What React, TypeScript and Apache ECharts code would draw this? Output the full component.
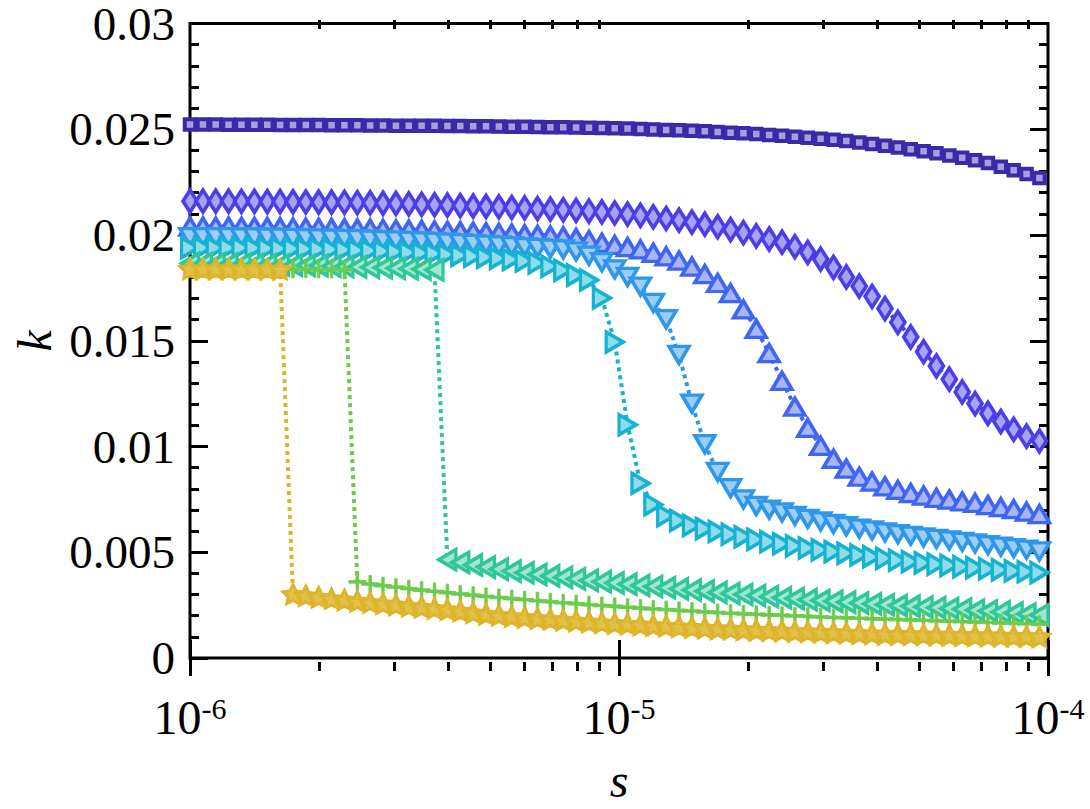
import { useEffect, useRef } from "react";
import * as echarts from "echarts";

// Sampling grid of s, in units of 1e-6 (log10 step of 0.03 from 1e-6)
const S_MICRO = [
  1.0, 1.072, 1.148, 1.23, 1.318, 1.413, 1.514, 1.622, 1.738, 1.862,
  1.995, 2.138, 2.291, 2.455, 2.63, 2.818, 3.02, 3.236, 3.467, 3.715,
  3.981, 4.266, 4.571, 4.898, 5.248, 5.623, 6.026, 6.457, 6.918, 7.413,
  7.943, 8.511, 9.12, 9.772, 10.47, 11.22, 12.02, 12.88, 13.8, 14.79,
  15.85, 16.98, 18.2, 19.5, 20.89, 22.39, 23.99, 25.7, 27.54, 29.51,
  31.62, 33.88, 36.31, 38.9, 41.69, 44.67, 47.86, 51.29, 54.95, 58.88,
  63.1, 67.61, 72.44, 77.62, 83.18, 89.13, 95.5,
];

const K_SQUARE = [
  0.02522, 0.02522, 0.02522, 0.02521, 0.02521, 0.02521, 0.02521, 0.0252, 0.0252, 0.0252,
  0.0252, 0.02519, 0.02519, 0.02519, 0.02518, 0.02518, 0.02517, 0.02517, 0.02516, 0.02516,
  0.02515, 0.02515, 0.02514, 0.02514, 0.02513, 0.02512, 0.02512, 0.02511, 0.0251, 0.02509,
  0.02508, 0.02507, 0.02506, 0.02505, 0.02503, 0.02501, 0.02499, 0.02497, 0.02495, 0.02493,
  0.0249, 0.02487, 0.02484, 0.02481, 0.02477, 0.02473, 0.02469, 0.02465, 0.0246, 0.02455,
  0.0245, 0.02444, 0.02437, 0.0243, 0.02422, 0.02414, 0.02405, 0.02396, 0.02386, 0.02376,
  0.02365, 0.02353, 0.0234, 0.02323, 0.02306, 0.02288, 0.0227,
];

const K_DIAMOND = [
  0.0216, 0.0216, 0.0216, 0.0216, 0.02159, 0.02159, 0.02158, 0.02158, 0.02157, 0.02156,
  0.02155, 0.02155, 0.02154, 0.02153, 0.02152, 0.0215, 0.02149, 0.02147, 0.02145, 0.02143,
  0.02141, 0.02139, 0.02137, 0.02135, 0.02133, 0.0213, 0.02128, 0.02125, 0.02122, 0.02119,
  0.02116, 0.02113, 0.02109, 0.02104, 0.02099, 0.02093, 0.02086, 0.02078, 0.0207, 0.02061,
  0.02051, 0.02039, 0.02025, 0.02011, 0.01996, 0.01981, 0.01966, 0.01945, 0.01918, 0.01886,
  0.01847, 0.01802, 0.01758, 0.0171, 0.01652, 0.01587, 0.01518, 0.01448, 0.01381, 0.01318,
  0.01258, 0.01203, 0.01157, 0.01118, 0.01081, 0.01049, 0.01026,
];

const K_TRI_UP = [
  0.0204, 0.0204, 0.0204, 0.0204, 0.02039, 0.02039, 0.02038, 0.02037, 0.02036, 0.02035,
  0.02034, 0.02033, 0.02032, 0.02031, 0.0203, 0.02029, 0.02027, 0.02026, 0.02024, 0.02022,
  0.0202, 0.02018, 0.02016, 0.02013, 0.0201, 0.02007, 0.02004, 0.02001, 0.01998, 0.01994,
  0.01986, 0.01976, 0.01963, 0.01953, 0.01943, 0.01932, 0.01916, 0.01899, 0.01879, 0.0185,
  0.01815, 0.01773, 0.01725, 0.01648, 0.01556, 0.01441, 0.0131, 0.01188, 0.01088, 0.01003,
  0.00942, 0.00895, 0.00857, 0.00834, 0.00811, 0.00795, 0.0078, 0.00768, 0.00757, 0.00749,
  0.0074, 0.00733, 0.00723, 0.00713, 0.00704, 0.00692, 0.0068,
];

const K_TRI_DOWN = [
  0.0199, 0.0199, 0.0199, 0.0199, 0.01989, 0.01989, 0.01988, 0.01987, 0.01986, 0.01985,
  0.01984, 0.01983, 0.01982, 0.0198, 0.01978, 0.01976, 0.01974, 0.01972, 0.0197, 0.01967,
  0.01964, 0.01961, 0.01958, 0.01955, 0.01951, 0.01947, 0.01943, 0.01939, 0.01936, 0.01932,
  0.01922, 0.01902, 0.01872, 0.01838, 0.01802, 0.01756, 0.01679, 0.01602, 0.01433, 0.01203,
  0.01011, 0.0088, 0.00803, 0.0075, 0.00719, 0.00702, 0.00688, 0.00672, 0.00658, 0.00646,
  0.00634, 0.00623, 0.00612, 0.00603, 0.00594, 0.00586, 0.00578, 0.0057, 0.00563, 0.00556,
  0.00549, 0.00542, 0.00534, 0.00527, 0.0052, 0.00512, 0.00504,
];

const K_TRI_RIGHT = [
  0.0194, 0.0194, 0.0194, 0.01939, 0.01939, 0.01938, 0.01937, 0.01936, 0.01935, 0.01934,
  0.01933, 0.01932, 0.0193, 0.01928, 0.01926, 0.01924, 0.01921, 0.01918, 0.01915, 0.01912,
  0.01908, 0.01904, 0.019, 0.01895, 0.0189, 0.01884, 0.01877, 0.01868, 0.01852, 0.01833,
  0.0181, 0.01787, 0.01702, 0.01494, 0.01103, 0.00826, 0.00725, 0.00673, 0.0065, 0.00627,
  0.00612, 0.00598, 0.00585, 0.00573, 0.00561, 0.0055, 0.0054, 0.0053, 0.0052, 0.00511,
  0.00503, 0.00495, 0.00487, 0.00479, 0.00471, 0.00462, 0.00456, 0.0045, 0.00444, 0.00438,
  0.00432, 0.00427, 0.00422, 0.00417, 0.00412, 0.00408, 0.00404,
];

const K_TRI_LEFT = [
  0.01865, 0.01864, 0.01863, 0.01862, 0.01861, 0.0186, 0.01859, 0.01858, 0.01857, 0.01856,
  0.01855, 0.01853, 0.01851, 0.01849, 0.01847, 0.01845, 0.01843, 0.01841, 0.01838, 0.01835,
  0.00465, 0.00452, 0.0044, 0.0043, 0.0042, 0.00411, 0.00403, 0.00395, 0.00388, 0.00381,
  0.00374, 0.00367, 0.00361, 0.00355, 0.00349, 0.00343, 0.00338, 0.00332, 0.00327, 0.00321,
  0.00316, 0.0031, 0.00305, 0.003, 0.00295, 0.0029, 0.00285, 0.00281, 0.00276, 0.00272,
  0.00268, 0.00264, 0.0026, 0.00256, 0.00252, 0.00248, 0.00245, 0.00241, 0.00238, 0.00234,
  0.00231, 0.00226, 0.00222, 0.00218, 0.00213, 0.00208, 0.00203,
];

const K_PLUS = [
  0.0184, 0.0184, 0.0184, 0.0184, 0.0184, 0.01839, 0.01839, 0.01839, 0.01838, 0.01838,
  0.01837, 0.01837, 0.01836, 0.0036, 0.0035, 0.00342, 0.00335, 0.00328, 0.00321, 0.00315,
  0.00309, 0.00303, 0.00297, 0.00291, 0.00286, 0.00281, 0.00276, 0.00271, 0.00266, 0.00261,
  0.00257, 0.00252, 0.00248, 0.00244, 0.0024, 0.00236, 0.00232, 0.00229, 0.00225, 0.00222,
  0.00218, 0.00215, 0.00212, 0.00209, 0.00207, 0.00204, 0.00202, 0.00199, 0.00197, 0.00194,
  0.00192, 0.0019, 0.00188, 0.00186, 0.00184, 0.00182, 0.0018, 0.00178, 0.00176, 0.00174,
  0.00172, 0.0017, 0.00168, 0.00166, 0.00164, 0.00162, 0.0016,
];

const K_STAR = [
  0.0184, 0.0184, 0.0184, 0.0184, 0.01839, 0.01839, 0.01839, 0.01838, 0.00302, 0.00295,
  0.00288, 0.00281, 0.00275, 0.00269, 0.00263, 0.00257, 0.00251, 0.00245, 0.0024, 0.00234,
  0.00229, 0.00222, 0.00214, 0.00207, 0.00202, 0.00197, 0.00192, 0.00187, 0.00183, 0.00179,
  0.00175, 0.00171, 0.00167, 0.00163, 0.0016, 0.00157, 0.00154, 0.00151, 0.00148, 0.00145,
  0.00142, 0.00139, 0.00137, 0.00134, 0.00132, 0.0013, 0.00128, 0.00126, 0.00124, 0.00122,
  0.0012, 0.00118, 0.00116, 0.00115, 0.00113, 0.00112, 0.00111, 0.0011, 0.00109, 0.00108,
  0.00107, 0.00106, 0.00105, 0.00104, 0.00103, 0.00102, 0.00101,
];

// Axis ticks
const Y_TICK_LABELS = ["0", "0.005", "0.01", "0.015", "0.02", "0.025", "0.03"];
const Y_STEP = 0.005;
const X_DECADES = [-6, -5];
const X_MINOR_MULTIPLES = [2, 3, 4, 5, 6, 7, 8, 9];

const FONT = "'Liberation Serif', 'Times New Roman', serif";

// Chunky five-point star and plus markers
const STAR_PATH =
  "path://M0,-1 L0.3,-0.4 L0.951,-0.309 L0.46,0.16 L0.588,0.809 L0,0.5 L-0.588,0.809 L-0.46,0.16 L-0.951,-0.309 L-0.3,-0.4 Z";
const PLUS_PATH =
  "path://M-0.15,-1 L0.15,-1 L0.15,-0.15 L1,-0.15 L1,0.15 L0.15,0.15 L0.15,1 L-0.15,1 L-0.15,0.15 L-1,0.15 L-1,-0.15 L-0.15,-0.15 Z";

type Spec = {
  name: string;
  values: number[];
  symbol: string;
  size: number | number[];
  rotate?: number;
  stroke: string;
  fill: string;
  border: number;
};

const SERIES: Spec[] = [
  { name: "square", values: K_SQUARE, symbol: "rect", size: 10.5, stroke: "#3a2aa8", fill: "#a79fdc", border: 4 },
  { name: "diamond", values: K_DIAMOND, symbol: "diamond", size: [14, 22], stroke: "#4b3ee8", fill: "#a6a3f0", border: 3.8 },
  { name: "up", values: K_TRI_UP, symbol: "triangle", size: [20, 17], stroke: "#3f66f2", fill: "#a9b6f6", border: 3.5 },
  { name: "down", values: K_TRI_DOWN, symbol: "triangle", size: [20, 17], rotate: 180, stroke: "#2f97ea", fill: "#9ccdf4", border: 3.5 },
  { name: "right", values: K_TRI_RIGHT, symbol: "triangle", size: [20, 17], rotate: -90, stroke: "#15b3d2", fill: "#8fdbe9", border: 3.5 },
  { name: "left", values: K_TRI_LEFT, symbol: "triangle", size: [20, 17], rotate: 90, stroke: "#2fc799", fill: "#a3e6cf", border: 3.5 },
  { name: "plus", values: K_PLUS, symbol: PLUS_PATH, size: 17, stroke: "#6ccb4c", fill: "#6ccb4c", border: 0.8 },
  { name: "star", values: K_STAR, symbol: STAR_PATH, size: 20, stroke: "#ddb52b", fill: "#e2c04a", border: 3 },
];

export default function App() {
  const ref = useRef<HTMLDivElement>(null);

  useEffect(() => {
    if (!ref.current) return;
    const chart = echarts.init(ref.current, undefined, { renderer: "svg" });

    const tickLine = { color: "#000", width: 3 };
    const minorLogTicks: number[] = [];
    X_DECADES.forEach((d) => X_MINOR_MULTIPLES.forEach((m) => minorLogTicks.push(d + Math.log10(m))));

    const gridRect = { left: 190, right: 42, top: 20, bottom: 138 };

    const logAxisBase = {
      type: "log" as const,
      logBase: 10,
      min: 1e-6,
      max: 1e-4,
      gridIndex: 0,
      axisLine: { show: false },
      axisTick: { show: true, inside: true, length: 18, lineStyle: tickLine },
      splitLine: { show: false },
      minorTick: { show: false },
      minorSplitLine: { show: false },
    };

    // Log-space value axes that only carry the minor ticks (2..9 per decade)
    const minorAxisBase = {
      type: "value" as const,
      min: -6,
      max: -4,
      gridIndex: 1,
      axisLine: { show: false },
      axisTick: { show: true, inside: true, length: 9, customValues: minorLogTicks, lineStyle: tickLine },
      axisLabel: { show: false },
      splitLine: { show: false },
    };

    const yAxisBase = {
      type: "value" as const,
      min: 0,
      max: 0.03,
      interval: Y_STEP,
      gridIndex: 0,
      axisLine: { show: false },
      axisTick: { show: true, inside: true, length: 18, lineStyle: tickLine },
      minorTick: { show: true, splitNumber: 5, length: 9, lineStyle: tickLine },
      splitLine: { show: false },
      minorSplitLine: { show: false },
    };

    const option: echarts.EChartsOption = {
      animation: false,
      backgroundColor: "#fff",
      grid: [
        { ...gridRect, show: true, borderColor: "#000", borderWidth: 3, backgroundColor: "transparent" },
        { ...gridRect, show: false },
      ],
      xAxis: [
        {
          ...logAxisBase,
          position: "bottom",
          axisLabel: {
            margin: 35,
            formatter: (v: number) => `{b|10}{e|${Math.round(Math.log10(v))}}`,
            rich: {
              b: { fontFamily: FONT, fontSize: 48, lineHeight: 48, color: "#000" },
              e: { fontFamily: FONT, fontSize: 30, lineHeight: 22, verticalAlign: "top", color: "#000" },
            },
          },
          name: "s",
          nameLocation: "middle",
          nameGap: 98,
          nameTextStyle: { fontFamily: FONT, fontSize: 48, fontStyle: "italic", color: "#000" },
        },
        { ...logAxisBase, position: "top", axisLabel: { show: false } },
        { ...minorAxisBase, position: "bottom" },
        { ...minorAxisBase, position: "top" },
      ] as any,
      yAxis: [
        {
          ...yAxisBase,
          position: "left",
          axisLabel: {
            margin: 15,
            fontFamily: FONT,
            fontSize: 47,
            lineHeight: 34,
            color: "#000",
            formatter: (v: number) => Y_TICK_LABELS[Math.round(v / Y_STEP)] ?? "",
          },
          name: "k",
          nameLocation: "middle",
          nameRotate: 90,
          nameGap: 126,
          nameTextStyle: { fontFamily: FONT, fontSize: 48, fontStyle: "italic", color: "#000" },
        },
        { ...yAxisBase, position: "right", axisLabel: { show: false } },
        { type: "value", gridIndex: 1, min: 0, max: 1, show: false },
      ] as any,
      series: SERIES.map((s) => ({
        type: "line",
        name: s.name,
        xAxisIndex: 0,
        yAxisIndex: 0,
        data: s.values.map((k, i) => [S_MICRO[i] * 1e-6, k]),
        symbol: s.symbol,
        symbolSize: s.size,
        symbolRotate: s.rotate ?? 0,
        symbolKeepAspect: true,
        showSymbol: true,
        showAllSymbol: true,
        clip: false,
        silent: true,
        emphasis: { disabled: true },
        itemStyle: { color: s.fill, borderColor: s.stroke, borderWidth: s.border, opacity: 1 },
        lineStyle: { color: s.stroke, width: 4, type: [4, 4] },
      })) as any,
    };

    chart.setOption(option);
    return () => chart.dispose();
  }, []);

  return (
    <div
      ref={ref}
      style={{ position: "absolute", left: 0, top: 0, width: 1090, height: 809 }}
    />
  );
}
